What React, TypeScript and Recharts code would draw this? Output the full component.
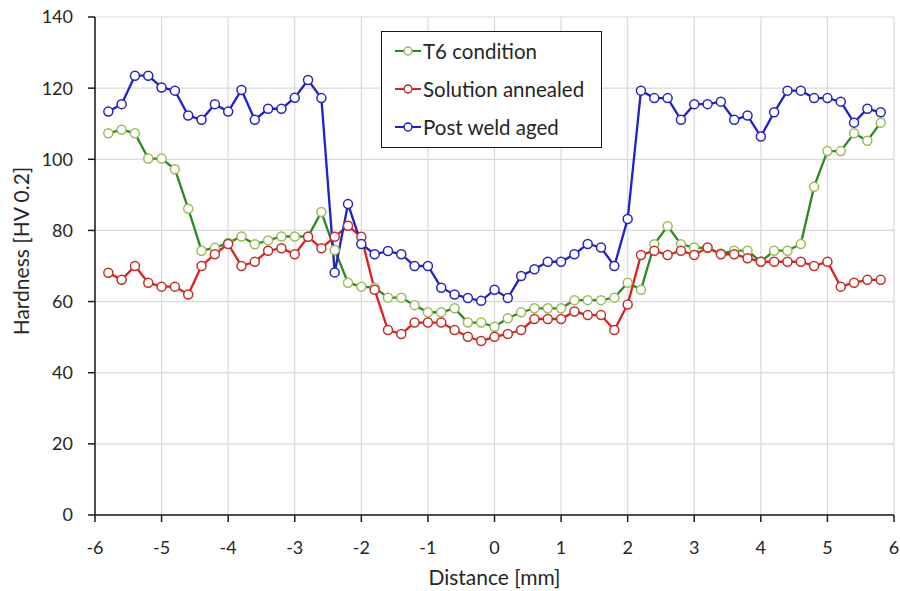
import React from 'react';
import { LineChart, Line, XAxis, YAxis, CartesianGrid, Legend } from 'recharts';

const distance = [
  -5.8, -5.6, -5.4, -5.2, -5.0, -4.8, -4.6, -4.4, -4.2, -4.0,
  -3.8, -3.6, -3.4, -3.2, -3.0, -2.8, -2.6, -2.4, -2.2, -2.0,
  -1.8, -1.6, -1.4, -1.2, -1.0, -0.8, -0.6, -0.4, -0.2, 0.0,
  0.2, 0.4, 0.6, 0.8, 1.0, 1.2, 1.4, 1.6, 1.8, 2.0,
  2.2, 2.4, 2.6, 2.8, 3.0, 3.2, 3.4, 3.6, 3.8, 4.0,
  4.2, 4.4, 4.6, 4.8, 5.0, 5.2, 5.4, 5.6, 5.8,
];

const t6Condition = [
  107.3, 108.3, 107.3, 100.2, 100.2, 97.2, 86.1, 74.3, 75.1, 76.5,
  78.3, 76.1, 77.2, 78.3, 78.3, 78.3, 85.2, 74.5, 65.3, 64.2,
  63.9, 61.1, 61.1, 59.0, 57.0, 57.0, 58.1, 54.1, 54.1, 52.9,
  55.3, 57.0, 58.1, 58.1, 58.1, 60.4, 60.4, 60.4, 61.1, 65.3,
  63.3, 76.1, 81.2, 76.1, 75.2, 75.0, 73.5, 74.3, 74.3, 71.2,
  74.3, 74.3, 76.2, 92.3, 102.3, 102.3, 107.3, 105.2, 110.3,
];

const solutionAnnealed = [
  68.1, 66.1, 70.0, 65.3, 64.2, 64.2, 62.0, 70.0, 73.3, 76.2,
  70.0, 71.2, 74.3, 75.0, 73.3, 78.2, 75.0, 78.2, 81.3, 78.2,
  63.3, 52.0, 50.9, 54.1, 54.1, 54.1, 52.0, 50.1, 48.9, 50.1,
  50.9, 52.0, 55.1, 55.1, 55.1, 57.2, 56.2, 56.2, 52.0, 59.2,
  73.1, 74.3, 73.1, 74.3, 73.1, 75.2, 73.3, 73.3, 72.2, 71.2,
  71.2, 71.2, 71.2, 70.0, 71.2, 64.2, 65.3, 66.1, 66.1,
];

const postWeldAged = [
  113.4, 115.5, 123.5, 123.5, 120.2, 119.3, 112.3, 111.1, 115.5, 113.4,
  119.5, 111.1, 114.2, 114.2, 117.3, 122.3, 117.2, 68.2, 87.4, 76.2,
  73.3, 74.2, 73.3, 70.0, 70.0, 63.9, 62.0, 61.0, 60.2, 63.3,
  61.0, 67.2, 69.1, 71.2, 71.2, 73.3, 76.2, 75.2, 70.0, 83.2,
  119.3, 117.2, 117.2, 111.1, 115.5, 115.5, 116.2, 111.1, 112.3, 106.4,
  113.2, 119.3, 119.3, 117.2, 117.2, 116.2, 110.3, 114.2, 113.2,
];

const xTicks = [-6, -5, -4, -3, -2, -1, 0, 1, 2, 3, 4, 5, 6];
const yTicks = [0, 20, 40, 60, 80, 100, 120, 140];

const seriesInfo = [
  { key: 't6', name: 'T6 condition', line: '#2A8A22', marker: '#9BBB59' },
  { key: 'sa', name: 'Solution annealed', line: '#E0201C', marker: '#C0302A' },
  { key: 'pw', name: 'Post weld aged', line: '#2020CC', marker: '#2424C0' },
];

const data = distance.map((d, i) => ({
  d,
  t6: t6Condition[i],
  sa: solutionAnnealed[i],
  pw: postWeldAged[i],
}));

const FONT = 'Lato, "Liberation Sans", sans-serif';
const TEXT = '#262626';

function LegendBox() {
  return (
    <div
      style={{
        width: 221,
        height: 117,
        border: '1.5px solid #1a1a1a',
        background: '#fff',
        boxSizing: 'border-box',
        paddingTop: 0,
        fontFamily: FONT,
        fontSize: 20.5,
        color: TEXT,
      }}
    >
      {seriesInfo.map((s) => (
        <div key={s.key} style={{ display: 'flex', alignItems: 'center', height: 39, marginTop: -1 }}>
          <svg width={41} height={14} style={{ flex: 'none' }}>
            <line x1={13} x2={39} y1={7} y2={7} stroke={s.line} strokeWidth={2} />
            <circle cx={26} cy={7} r={4} fill="#fff" stroke={s.marker} strokeWidth={1.5} />
          </svg>
          <span style={{ whiteSpace: 'nowrap' }}>{s.name}</span>
        </div>
      ))}
    </div>
  );
}

function YTitle(props: any) {
  const vb = props.viewBox || { x: 0, y: 0, width: 0, height: 0 };
  const cx = vb.x + 20;
  const cy = vb.y + vb.height / 2 - 15;
  return (
    <text
      x={cx}
      y={cy}
      transform={`rotate(-90, ${cx}, ${cy})`}
      textAnchor="middle"
      dominantBaseline="central"
      fill={TEXT}
      fontSize={21}
      fontFamily={FONT}
    >
      Hardness [HV 0.2]
    </text>
  );
}

export default function App() {
  return (
    <div style={{ position: 'absolute', left: 0, top: 0, width: 900, height: 591, background: '#fff' }}>
      <LineChart
        width={900}
        height={591}
        data={data}
        margin={{ top: 17, right: 6, bottom: 0, left: 0 }}
        style={{ fontFamily: FONT }}
      >
        <CartesianGrid stroke="#D9D9D9" strokeWidth={1.2} />
        <XAxis
          dataKey="d"
          type="number"
          domain={[-6, 6]}
          ticks={xTicks}
          height={76}
          tickSize={7}
          tickMargin={19}
          stroke="#1a1a1a"
          strokeWidth={1.5}
          tick={{ fill: TEXT, fontSize: 18, fontFamily: FONT }}
          label={{ value: 'Distance [mm]', position: 'insideBottom', offset: 6, fill: TEXT, fontSize: 21, fontFamily: FONT }}
        />
        <YAxis
          type="number"
          domain={[0, 140]}
          ticks={yTicks}
          width={95}
          tickSize={7}
          tickMargin={15}
          stroke="#1a1a1a"
          strokeWidth={1.5}
          tick={{ fill: TEXT, fontSize: 18, fontFamily: FONT }}
          label={{ position: 'insideLeft', content: <YTitle /> }}
        />
        <Legend
          layout="horizontal"
          verticalAlign="middle"
          align="center"
          content={<LegendBox />}
          wrapperStyle={{ left: 381, top: 31, width: 221, height: 117 }}
        />
        {seriesInfo.map((s) => (
          <Line
            key={s.key}
            dataKey={s.key}
            name={s.name}
            type="linear"
            stroke={s.line}
            strokeWidth={2.3}
            dot={{ r: 4.5, fill: '#fff', stroke: s.marker, strokeWidth: 1.5 }}
            activeDot={false}
            isAnimationActive={false}
          />
        ))}
      </LineChart>
    </div>
  );
}
